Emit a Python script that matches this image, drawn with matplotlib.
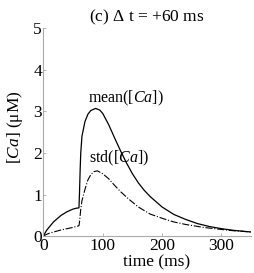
import matplotlib
matplotlib.use("Agg")
import matplotlib.pyplot as plt
import numpy as np

plt.rcParams['font.family'] = ['Liberation Serif', 'DejaVu Serif']
plt.rcParams['mathtext.fontset'] = 'custom'
plt.rcParams['mathtext.it'] = 'Liberation Serif:italic'
plt.rcParams['mathtext.rm'] = 'Liberation Serif'

# values
t_mean = [0, 5, 10, 17, 25, 30, 39, 45, 50, 55, 60, 61, 62, 63, 65, 70, 75, 80, 88,
          95, 100, 110, 120, 130, 140, 150, 160, 170, 180, 200, 220, 240, 260,
          280, 300, 320, 350]
ca_mean = [0, 0.13, 0.22, 0.34, 0.44, 0.5, 0.58, 0.62, 0.65, 0.67, 0.68, 1.1, 1.6, 2.0, 2.4,
           2.75, 2.93, 3.02, 3.07, 3.03, 2.95, 2.68, 2.36, 2.05, 1.76, 1.5, 1.28,
           1.1, 0.95, 0.7, 0.52, 0.4, 0.3, 0.23, 0.18, 0.14, 0.10]

t_std = [0, 5, 10, 20, 30, 40, 50, 60, 61, 62, 63, 65, 70, 75, 80, 85, 91, 100,
         110, 120, 130, 143, 160, 180, 202, 220, 240, 270, 300, 320, 350]
ca_std = [0, 0.04, 0.07, 0.11, 0.15, 0.18, 0.21, 0.25, 0.35, 0.5, 0.65, 0.85, 1.12,
          1.35, 1.48, 1.55, 1.57, 1.5, 1.38, 1.22, 1.07, 0.9, 0.7, 0.53, 0.42,
          0.34, 0.28, 0.21, 0.16, 0.13, 0.10]

W, H = 255, 273
fig = plt.figure(figsize=(W / 100, H / 100), dpi=100)
ax = fig.add_axes([0.17, 0.135, 0.815, 0.762])

ax.plot(t_mean, ca_mean, color='black', lw=0.9)
ax.plot(t_std, ca_std, color='black', lw=0.8, linestyle='-.')

ax.text(139, 3.32, r'mean([$Ca$])', ha='center', va='center', fontsize=11.5)
ax.text(128, 1.87, r'std([$Ca$])', ha='center', va='center', fontsize=11.5)

ax.set_xlim(0, 350)
ax.set_ylim(0, 5)
ax.set_xticks([0, 100, 200, 300])
ax.set_yticks([0, 1, 2, 3, 4, 5])
ax.tick_params(direction='in', length=2, width=0.5, color='#999999',
               labelsize=12.5, pad=1)
for s in ['top', 'right']:
    ax.spines[s].set_visible(False)
for s in ['left', 'bottom']:
    ax.spines[s].set_color('#aaaaaa')
    ax.spines[s].set_linewidth(0.8)

ax.set_title(r'(c) $\Delta$ t = +60 ms', fontsize=12.5, pad=5)
fig.text(157 / W, 1 - 262 / H, 'time (ms)', ha='center', va='center', fontsize=12.5)
fig.text(15 / W, 1 - 127 / H, r'[$Ca$] ($\mathrm{\mu}$M)', ha='center', va='center',
         rotation=90, fontsize=12.5)

fig.savefig('out.png', dpi=100)
